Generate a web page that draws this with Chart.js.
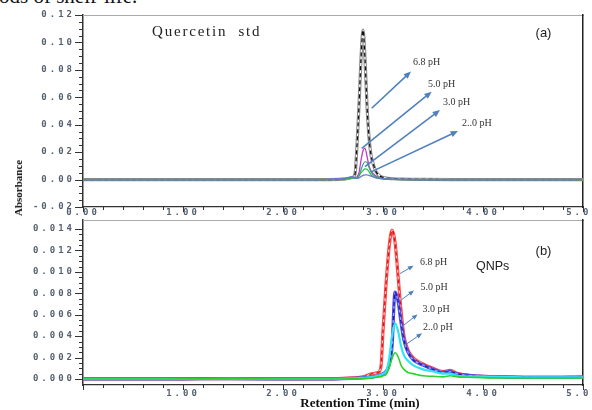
<!DOCTYPE html>
<html>
<head>
<meta charset="utf-8">
<script src="https://cdn.jsdelivr.net/npm/chart.js@4.4.1/dist/chart.umd.min.js"></script>
<style>
html, body { margin: 0; padding: 0; background: #fff; }
#wrap { position: relative; width: 592px; height: 410px; overflow: hidden; }
#top { position: absolute; left: 0; top: 0; }
#bot { position: absolute; left: 0; top: 218px; }
.txt { position: absolute; white-space: nowrap; color: #111; }
#doc { left: -1px; top: -14px; font: 21px/21px "Liberation Serif", serif; }
#ylab { left: 18px; top: 188px; font: bold 11px "Liberation Serif", serif; transform: translate(-50%, -50%) rotate(-90deg); }
#xlab { left: 360px; top: 396px; font: bold 13px/13px "Liberation Serif", serif; transform: translateX(-50%); }
</style>
</head>
<body>
<div id="wrap">
  <div class="txt" id="doc">ods of shelf-life.</div>
  <canvas id="top" width="592" height="218"></canvas>
  <canvas id="bot" width="592" height="192"></canvas>
  <div class="txt" id="ylab">Absorbance</div>
  <div class="txt" id="xlab">Retention Time (min)</div>
</div>
<script>
// tick labels
var xMajors = [0, 1, 2, 3, 4, 5];
var yMajorsA = [-0.02, 0, 0.02, 0.04, 0.06, 0.08, 0.10, 0.12];
var yMajorsB = [0, 0.002, 0.004, 0.006, 0.008, 0.010, 0.012, 0.014];

// (a) quercetin std, retention time (min)
var timeA = [0, 0.5, 1.0, 1.5, 2.0, 2.4, 2.6, 2.65, 2.7, 2.72, 2.74, 2.76, 2.78, 2.80, 2.82, 2.84, 2.86, 2.88, 2.90, 2.93, 2.97, 3.02, 3.1, 3.2, 3.4, 3.7, 4.0, 4.5, 5.0];
var quercetin68 = [0, 0, 0, 0, 0, 0, 0.0003, 0.0008, 0.0018, 0.004, 0.025, 0.054, 0.088, 0.109, 0.088, 0.054, 0.031, 0.018, 0.012, 0.0058, 0.0025, 0.0012, 0.0006, 0.0003, 0.0001, 0, 0, 0, 0];
var quercetin50 = [0, 0, 0, 0, 0, 0, 0.0005, 0.0012, 0.0018, 0.0012, 0.002, 0.005, 0.014, 0.021, 0.023, 0.017, 0.010, 0.0065, 0.0045, 0.0025, 0.0012, 0.0006, 0.0003, 0.0001, 0, 0, 0, 0, 0];
var quercetin30 = [0, 0, 0, 0, 0, 0, 0.0004, 0.001, 0.0015, 0.001, 0.0012, 0.003, 0.007, 0.011, 0.013, 0.0125, 0.009, 0.0055, 0.0035, 0.002, 0.001, 0.0005, 0.0002, 0.0001, 0, 0, 0, 0, 0];
var quercetin20 = [0, 0, 0, 0, 0, 0, 0.0004, 0.0009, 0.0012, 0.001, 0.001, 0.0025, 0.005, 0.0065, 0.0078, 0.0075, 0.0058, 0.0035, 0.0022, 0.0012, 0.0006, 0.0003, 0.0001, 0, 0, 0, 0, 0, 0];
var quercetinBlue = [0, 0, 0, 0, 0, 0, 0.0008, 0.0015, 0.0022, 0.0012, 0.0008, 0.0012, 0.0022, 0.003, 0.0034, 0.0034, 0.003, 0.0025, 0.002, 0.0014, 0.0008, 0.0004, 0.0002, 0.0001, 0, 0, 0, 0, 0];

// (b) QNPs
var timeB = [0, 0.5, 1.0, 1.5, 2.0, 2.5, 2.7, 2.8, 2.9, 2.95, 2.98, 3.0, 3.03, 3.06, 3.09, 3.12, 3.15, 3.18, 3.21, 3.25, 3.3, 3.4, 3.5, 3.6, 3.67, 3.75, 3.9, 4.2, 4.6, 5.0];
var qnp68 = [0.00002, 0.00001, 0.00002, 0.00004, 0.00001, 0.00002, 0.0001, 0.0002, 0.0005, 0.0006, 0.0012, 0.0045, 0.0088, 0.0122, 0.0139, 0.0128, 0.0097, 0.0064, 0.004, 0.0027, 0.002, 0.0014, 0.001, 0.0007, 0.0008, 0.0005, 0.0003, 0.0002, 0.00015, 0.0002];
var qnp50 = [0.00001, 0.00001, 0.00002, 0.00003, 0.00001, 0.00001, 0.00005, 0.0001, 0.0002, 0.0003, 0.0004, 0.0005, 0.0007, 0.0013, 0.003, 0.0081, 0.0073, 0.0053, 0.0036, 0.0025, 0.0018, 0.0013, 0.0009, 0.0006, 0.0007, 0.00045, 0.0003, 0.0002, 0.00015, 0.00015];
var qnp30 = [0.00001, 0.00001, 0.00002, 0.00003, 0.00001, 0.00001, 0.00005, 0.0001, 0.0002, 0.0003, 0.0004, 0.0005, 0.0007, 0.0018, 0.004, 0.0052, 0.0045, 0.0031, 0.0022, 0.0017, 0.0013, 0.0009, 0.0007, 0.0005, 0.0005, 0.0003, 0.00025, 0.0002, 0.00015, 0.00015];
var qnp20 = [0, 0, 0.00001, 0.00002, 0, 0, 0.00003, 0.00005, 0.0001, 0.0002, 0.0002, 0.0003, 0.0004, 0.001, 0.0019, 0.00245, 0.0021, 0.0013, 0.0009, 0.0006, 0.0005, 0.0003, 0.00025, 0.0002, 0.0003, 0.0002, 0.00015, 0.0001, 0.0001, 0.0001];

// arrows and notes, in data units [time, absorbance]
var arrowsA = [
  { text: '6.8 pH', from: [2.887, 0.052], to: [3.28, 0.0788], at: [3.30, 0.0854] },
  { text: '5.0 pH', from: [2.787, 0.0228], to: [3.487, 0.0641], at: [3.45, 0.0697] },
  { text: '3.0 pH', from: [2.82, 0.0094], to: [3.57, 0.0507], at: [3.60, 0.0566] },
  { text: '2..0 pH', from: [2.887, 0.0058], to: [3.75, 0.0354], at: [3.79, 0.0413] }
];
var arrowsB = [
  { text: '6.8 pH', from: [3.17, 0.00984], to: [3.305, 0.01057], at: [3.37, 0.01087] },
  { text: '5.0 pH', from: [3.18, 0.00737], to: [3.31, 0.00826], at: [3.375, 0.00851] },
  { text: '3.0 pH', from: [3.187, 0.00488], to: [3.345, 0.00602], at: [3.395, 0.00653] },
  { text: '2..0 pH', from: [3.22, 0.00317], to: [3.39, 0.00426], at: [3.40, 0.00485] }
];

function pts(times, vals) {
  return times.map(function(t, i) { return { x: t, y: vals[i] }; });
}

function subdivide(majors, n) {
  var out = [];
  for (var i = 0; i < majors.length - 1; i++) {
    var step = (majors[i + 1] - majors[i]) / n;
    for (var k = 0; k < n; k++) out.push(majors[i] + step * k);
  }
  out.push(majors[majors.length - 1]);
  return out;
}

function isMajor(v, majors) {
  return majors.some(function(m) { return Math.abs(m - v) < 1e-9; });
}

function line(data, color, width, dash) {
  return {
    data: data, borderColor: color, borderWidth: width, borderDash: dash || [],
    pointRadius: 0, fill: false, cubicInterpolationMode: 'monotone'
  };
}

var tickFont = { family: 'DejaVu Sans Mono', size: 9, weight: 'bold' };
var tickColor = '#55606f';

function scales(yMin, yMax, yMajors, digits, xHeight, xPad, skipZero) {
  var yTicks = subdivide(yMajors, 4);
  var xTicks = subdivide(xMajors, 5);
  return {
    x: {
      type: 'linear', min: 0, max: 5, position: 'bottom',
      afterBuildTicks: function(s) { s.ticks = xTicks.map(function(v) { return { value: v }; }); },
      afterFit: function(s) { s.height = xHeight; s.paddingLeft = 0; s.paddingRight = 0; },
      ticks: {
        autoSkip: false, maxRotation: 0, minRotation: 0, padding: xPad, font: tickFont, color: tickColor,
        callback: function(v) {
          if (!isMajor(v, xMajors) || (skipZero && v === 0)) return '';
          return v.toFixed(2);
        }
      },
      grid: { display: false, drawTicks: false },
      border: { color: '#333', width: 1.2 }
    },
    y: {
      type: 'linear', min: yMin, max: yMax, position: 'left',
      afterBuildTicks: function(s) { s.ticks = yTicks.map(function(v) { return { value: v }; }); },
      afterFit: function(s) { s.width = 83; s.paddingTop = 0; s.paddingBottom = 0; },
      ticks: {
        autoSkip: false, padding: 8, font: tickFont, color: tickColor,
        callback: function(v) { return isMajor(v, yMajors) ? v.toFixed(digits) : ''; }
      },
      grid: { display: false, drawTicks: false },
      border: { color: '#333', width: 1.5 }
    },
    x2: {
      type: 'linear', min: 0, max: 5, position: 'top',
      afterFit: function(s) { s.height = 0; s.paddingLeft = 0; s.paddingRight = 0; },
      ticks: { display: false }, grid: { display: false, drawTicks: false },
      border: { color: '#aaa', width: 1 }
    },
    y2: {
      type: 'linear', min: yMin, max: yMax, position: 'right',
      afterFit: function(s) { s.width = 0; s.paddingTop = 0; s.paddingBottom = 0; },
      ticks: { display: false }, grid: { display: false, drawTicks: false },
      border: { color: '#222', width: 1.5 }
    }
  };
}

// wide, spaced tick labels like the instrument printout
var spacedLabels = {
  id: 'spacedLabels',
  beforeDraw: function(chart) { chart.ctx.letterSpacing = '3px'; },
  beforeDatasetsDraw: function(chart) { chart.ctx.letterSpacing = '0px'; }
};

function tickMarks(yMajors) {
  return {
    id: 'tickMarks',
    afterDraw: function(chart) {
      var ctx = chart.ctx, a = chart.chartArea;
      var sx = chart.scales.x, sy = chart.scales.y;
      ctx.save();
      ctx.strokeStyle = '#333';
      ctx.lineWidth = 1;
      ctx.beginPath();
      sx.ticks.forEach(function(t) {
        var px = Math.round(sx.getPixelForValue(t.value)) + 0.5;
        var len = isMajor(t.value, xMajors) ? 5 : 3;
        ctx.moveTo(px, a.bottom);
        ctx.lineTo(px, a.bottom + len);
      });
      sy.ticks.forEach(function(t) {
        var py = Math.round(sy.getPixelForValue(t.value)) + 0.5;
        var len = isMajor(t.value, yMajors) ? 8 : 4;
        ctx.moveTo(a.left, py);
        ctx.lineTo(a.left - len, py);
      });
      ctx.stroke();
      ctx.restore();
    }
  };
}

function notes(arrows, texts, head, lw) {
  return {
    id: 'notes',
    afterDatasetsDraw: function(chart) {
      var ctx = chart.ctx, sx = chart.scales.x, sy = chart.scales.y;
      ctx.save();
      ctx.letterSpacing = '0px';
      arrows.forEach(function(ar) {
        var x1 = sx.getPixelForValue(ar.from[0]), y1 = sy.getPixelForValue(ar.from[1]);
        var x2 = sx.getPixelForValue(ar.to[0]), y2 = sy.getPixelForValue(ar.to[1]);
        var ang = Math.atan2(y2 - y1, x2 - x1);
        ctx.strokeStyle = '#4f81bd';
        ctx.fillStyle = '#4f81bd';
        ctx.lineWidth = lw;
        ctx.beginPath();
        ctx.moveTo(x1, y1);
        ctx.lineTo(x2 - Math.cos(ang) * head * 0.8, y2 - Math.sin(ang) * head * 0.8);
        ctx.stroke();
        ctx.beginPath();
        ctx.moveTo(x2, y2);
        ctx.lineTo(x2 - Math.cos(ang - 0.4) * head, y2 - Math.sin(ang - 0.4) * head);
        ctx.lineTo(x2 - Math.cos(ang + 0.4) * head, y2 - Math.sin(ang + 0.4) * head);
        ctx.closePath();
        ctx.fill();
        ctx.fillStyle = '#333';
        ctx.font = '10px "Liberation Serif"';
        ctx.textBaseline = 'middle';
        ctx.textAlign = 'left';
        ctx.fillText(ar.text, sx.getPixelForValue(ar.at[0]), sy.getPixelForValue(ar.at[1]));
      });
      texts.forEach(function(t) {
        ctx.fillStyle = '#222';
        ctx.font = t.font;
        ctx.letterSpacing = t.spacing || '0px';
        ctx.textBaseline = 'middle';
        ctx.textAlign = t.align || 'left';
        ctx.fillText(t.text, sx.getPixelForValue(t.at[0]), sy.getPixelForValue(t.at[1]));
      });
      ctx.restore();
    }
  };
}

Chart.defaults.animation = false;
Chart.defaults.responsive = false;

var dA = pts(timeA, quercetin68);
new Chart(document.getElementById('top'), {
  type: 'line',
  data: {
    datasets: [
      line(pts(timeA, quercetinBlue), '#6a78d8', 1.3),
      line(pts(timeA, quercetin20), '#22c040', 1.2),
      line(pts(timeA, quercetin30), '#3a9e8c', 1.2),
      line(pts(timeA, quercetin50), '#c03cc0', 1.3),
      line(dA, '#111', 1.3, [4, 3]),
      line(dA, '#fff', 1.2),
      line(dA, '#8a8a8a', 3.2)
    ]
  },
  options: {
    layout: { padding: { left: 0, right: 9, top: 15, bottom: 0 } },
    plugins: { legend: { display: false }, tooltip: { enabled: false } },
    scales: scales(-0.02, 0.12, yMajorsA, 2, 11, 0, false)
  },
  plugins: [spacedLabels, tickMarks(yMajorsA), notes(arrowsA, [
    { text: 'Quercetin  std', at: [0.69, 0.1076], font: '15px "Liberation Serif"', spacing: '1.8px' },
    { text: '(a)', at: [4.605, 0.1069], font: '13px "Liberation Sans"', align: 'center' }
  ], 8, 1.6)]
});

var dR = pts(timeB, qnp68), dB = pts(timeB, qnp50);
new Chart(document.getElementById('bot'), {
  type: 'line',
  data: {
    datasets: [
      line(pts(timeB, qnp20), '#2ed22e', 1.6),
      line(pts(timeB, qnp30), '#2ee6f2', 2.2),
      line(dB, '#1e1e9e', 1.4, [4, 3]),
      line(dB, '#a0a0ff', 1.2),
      line(dB, '#4646f2', 3.2),
      line(dR, '#d81818', 1.4, [4, 3]),
      line(dR, '#ffc4c4', 1.2),
      line(dR, '#ff4444', 3.2)
    ]
  },
  options: {
    layout: { padding: { left: 0, right: 9, top: 2, bottom: 0 } },
    plugins: { legend: { display: false }, tooltip: { enabled: false } },
    scales: scales(-0.00056, 0.01484, yMajorsB, 3, 25, 3, true)
  },
  plugins: [spacedLabels, tickMarks(yMajorsB), notes(arrowsB, [
    { text: '(b)', at: [4.605, 0.01194], font: '13px "Liberation Sans"', align: 'center' },
    { text: 'QNPs', at: [3.93, 0.01054], font: '12.5px "Liberation Sans"' }
  ], 6, 1)]
});
</script>
</body>
</html>
